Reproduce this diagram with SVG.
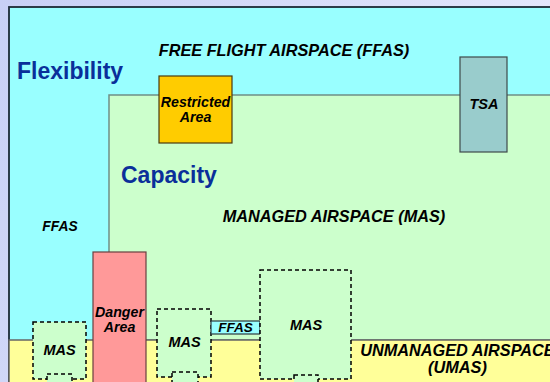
<svg xmlns="http://www.w3.org/2000/svg" width="550" height="382" viewBox="0 0 550 382">
<defs>
<linearGradient id="bg" x1="0" y1="0" x2="1" y2="0.3">
<stop offset="0" stop-color="#c8d0f6"/>
<stop offset="1" stop-color="#e6e9fc"/>
</linearGradient>
</defs>
<style>
.lbl{font-family:"Liberation Sans",Arial,sans-serif;font-style:italic;font-weight:bold;fill:#000;text-anchor:middle}
.big{font-family:"Liberation Sans",Arial,sans-serif;font-weight:bold;fill:#0a2f9a;font-size:23px}
.mas{fill:#ccffcc;stroke:#000;stroke-width:1.5;stroke-dasharray:4 3}
.solid{stroke-width:1.2}
</style>
<rect x="0" y="0" width="550" height="382" fill="url(#bg)"/>
<g id="ffas-region">
<rect x="9" y="7" width="560" height="400" fill="#99ffff" stroke="#1c2a36" stroke-width="1.8"/>
<text class="lbl" x="284" y="56" font-size="16.3">FREE FLIGHT AIRSPACE (FFAS)</text>
<text class="lbl" x="60" y="231" font-size="13.8">FFAS</text>
</g>
<g id="mas-region">
<rect x="109" y="95" width="460" height="245" fill="#ccffcc" stroke="#6f8f86" stroke-width="1.5"/>
<text class="lbl" x="334" y="222" font-size="16.3">MANAGED AIRSPACE (MAS)</text>
</g>
<g id="umas-region">
<rect x="9" y="340" width="560" height="60" fill="#ffff99" stroke="#666" stroke-width="1.5"/>
<text class="lbl" x="457.5" y="356" font-size="16.3">UNMANAGED AIRSPACE</text>
<text class="lbl" x="457.5" y="373" font-size="16.3">(UMAS)</text>
</g>
<g id="flexibility"><text class="big" x="17" y="79">Flexibility</text></g>
<g id="capacity"><text class="big" x="121" y="183">Capacity</text></g>
<g id="restricted-area">
<rect class="solid" x="159" y="76" width="73" height="67" fill="#ffcc00" stroke="#4a3a10"/>
<text class="lbl" x="195.5" y="107" font-size="14.2">Restricted</text>
<text class="lbl" x="195.5" y="122" font-size="14.2">Area</text>
</g>
<g id="tsa">
<rect class="solid" x="460" y="57" width="47" height="95" fill="#99cccc" stroke="#3e4a4a"/>
<text class="lbl" x="484" y="109" font-size="14.5">TSA</text>
</g>
<g id="danger-area">
<rect class="solid" x="93" y="252" width="53" height="140" fill="#ff9999" stroke="#6a4040"/>
<text class="lbl" x="119.5" y="317" font-size="14.2">Danger</text>
<text class="lbl" x="119.5" y="332" font-size="14.2">Area</text>
</g>
<g id="mas-1">
<rect class="mas" x="33" y="322" width="53" height="57"/>
<rect class="mas" x="47" y="374" width="25" height="20"/>
<text class="lbl" x="59.5" y="355" font-size="14.5">MAS</text>
</g>
<g id="mas-2">
<rect class="mas" x="157" y="309" width="54" height="68"/>
<rect class="mas" x="172" y="372" width="26" height="22"/>
<text class="lbl" x="184.5" y="347" font-size="14.5">MAS</text>
</g>
<g id="ffas-small">
<rect class="solid" x="211" y="321" width="49" height="13" fill="#99ffff" stroke="#2a3a40"/>
<text class="lbl" x="235.5" y="332" font-size="13.5">FFAS</text>
</g>
<g id="mas-3">
<rect class="mas" x="260" y="270" width="91" height="109"/>
<rect class="mas" x="294" y="375" width="24" height="20"/>
<text class="lbl" x="306" y="330" font-size="14.5">MAS</text>
</g>
<g id="connectors"/>
</svg>
